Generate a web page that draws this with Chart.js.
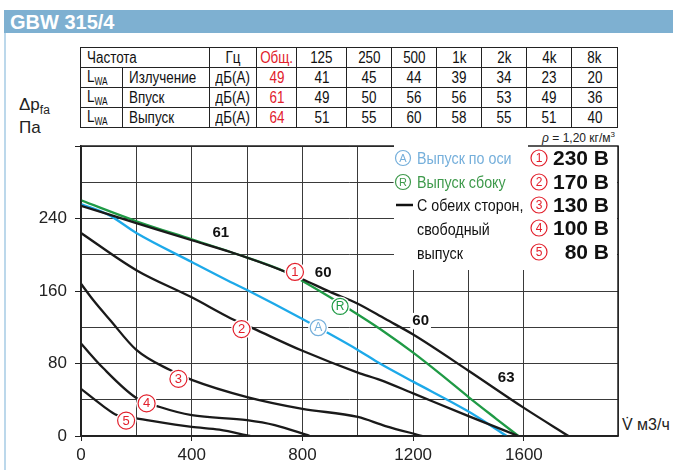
<!DOCTYPE html>
<html>
<head>
<meta charset="utf-8">
<script src="https://cdn.jsdelivr.net/npm/chart.js@4.4.0/dist/chart.umd.min.js"></script>
<style>
  body { margin: 0; background: #fff; font-family: "Liberation Sans", Arial, sans-serif; }
  #page { position: relative; width: 673px; height: 470px; overflow: hidden; }
  #band { position: absolute; left: 4px; top: 10px; width: 669px; height: 23px; background: #7eb0d1;
          color: #fff; font-weight: bold; font-size: 20px; line-height: 24px; padding-left: 6px; box-sizing: border-box; }
  #edge { position: absolute; left: 4px; top: 33px; width: 2px; height: 437px; background: #bcd8eb; }
  #noise { position: absolute; left: 80px; top: 47px; border-collapse: collapse; table-layout: fixed;
           font-size: 16px; color: #111; }
  #noise td { border: 1.5px solid #222; height: 19px; padding: 0; text-align: center; white-space: nowrap; overflow: hidden; }
  #noise td span { display: inline-block; transform: scaleX(0.84); transform-origin: center; }
  #noise td.l { text-align: left; padding-left: 6px; }
  #noise td.l span { transform-origin: left; }
  #noise .red { color: #e2202c; }
  #noise sub { font-size: 10px; vertical-align: -3px; }
  #dp { position: absolute; left: 19px; top: 96px; font-size: 17px; line-height: 18px; color: #222; }
  #dp sub { font-size: 12px; vertical-align: -4px; }
  #rho { position: absolute; right: 58px; top: 130px; font-size: 12px; color: #222; }
  #rho sup { font-size: 8px; vertical-align: 5px; }
  #vt { position: absolute; left: 622px; top: 416px; font-size: 16px; color: #222; }
  canvas { position: absolute; left: 0; top: 0; }
</style>
</head>
<body>
<div id="page">
  <div id="band">GBW 315/4</div>
  <div id="edge"></div>
  <table id="noise"></table>
  <div id="dp">Δp<sub>fa</sub><br>Па</div>
  <div id="rho"><i>ρ</i> = 1,20 кг/м<sup>3</sup></div>
  <div id="vt">V̇ м3/ч</div>
  <canvas id="chart" width="673" height="470"></canvas>
</div>
<script>
// таблица шума
var bands = ['125', '250', '500', '1k', '2k', '4k', '8k'];
var rowNames = ['Излучение', 'Впуск', 'Выпуск'];
var totals = [49, 61, 64];
var lwaRadiated = [41, 45, 44, 39, 34, 23, 20];
var lwaInlet = [49, 50, 56, 56, 53, 49, 36];
var lwaOutlet = [51, 55, 60, 58, 55, 51, 40];

// кривые (x = м3/ч, y = Па)
var x230 = [0, 200, 400, 540, 740, 800, 900, 1000, 1100, 1200, 1400, 1600, 1761];
var y230 = [254, 235, 216, 203, 181, 173, 159, 146, 129, 112, 72, 31, 0];
var xSide = [0, 200, 400, 540, 740, 800, 900, 1000, 1100, 1200, 1300, 1400, 1500, 1580];
var ySide = [260, 237, 217, 203, 181, 171, 153, 134, 114, 92, 68, 43, 19, 0];
var xAxial = [0, 100, 200, 400, 540, 600, 800, 1000, 1080, 1200, 1400, 1538];
var yAxial = [256, 244, 224, 192, 170, 161, 129, 95, 80, 60, 27, 0];
var x170 = [0, 200, 400, 540, 620, 800, 1000, 1080, 1200, 1400, 1580];
var y170 = [224, 183, 153, 130, 119, 94, 70, 62, 47, 22, 0];
var x130 = [0, 44, 105, 200, 320, 400, 600, 800, 1000, 1100, 1234];
var y130 = [168, 150, 128, 95, 73, 62, 43, 30, 21, 11, 0];
var x100 = [0, 80, 200, 285, 400, 600, 700, 827];
var y100 = [102, 75, 42, 32, 23, 17.5, 12, 0];
var x80 = [0, 80, 130, 200, 400, 500, 611];
var y80 = [52, 33, 23, 19.5, 10, 7, 0];

var voltages = ['230 В', '170 В', '130 В', '100 В', '80 В'];
var legendTexts = ['Выпуск по оси', 'Выпуск сбоку', 'С обеих сторон,', 'свободный', 'выпуск'];

// метки на кривых
var markNums = ['1', '2', '3', '4', '5'];
var markX = [773, 580, 352, 237, 163];
var markY = [181, 118, 63, 36, 17];
var letterMarks = ['A', 'R'];
var letterX = [857, 936];
var letterY = [119.6, 143];
var dbLabels = ['61', '60', '60', '63'];
var dbX = [505, 875, 1227, 1536];
var dbY = [224, 180, 127, 64];

var RED = '#e2202c', GREEN = '#1f9a45', BLUE = '#1da9e9', LBLUE = '#75afdb', BLACK = '#1a1a1a';

// строим таблицу
var tbl = document.getElementById('noise');
var widths = [42, 87, 47, 40, 50, 45, 45, 45, 45, 45, 46];
function cell(txt, cls, extra) {
  return '<td' + (cls ? ' class="' + cls + '"' : '') + (extra || '') + '><span>' + txt + '</span></td>';
}
var html = '<colgroup>' + widths.map(function (w) { return '<col style="width:' + w + 'px">'; }).join('') + '</colgroup>';
html += '<tr>' + cell('Частота', 'l', ' colspan="2"') + cell('Гц') + cell('Общ.', 'red') +
  bands.map(function (b) { return cell(b); }).join('') + '</tr>';
[lwaRadiated, lwaInlet, lwaOutlet].forEach(function (row, i) {
  html += '<tr>' + cell('L<sub>WA</sub>', 'l') + cell(rowNames[i], 'l') + cell('дБ(А)') +
    cell(totals[i], 'red') + row.map(function (v) { return cell(v); }).join('') + '</tr>';
});
tbl.innerHTML = html;

function pts(xs, ys) {
  return xs.map(function (x, i) { return { x: x, y: ys[i] }; });
}
function curve(label, xs, ys, color) {
  return {
    label: label, data: pts(xs, ys), borderColor: color, borderWidth: 2.3,
    pointRadius: 0, fill: false, cubicInterpolationMode: 'monotone'
  };
}

function narrow(ctx, text, x, y, k) {
  ctx.save();
  ctx.translate(x, y);
  ctx.scale(k, 1);
  ctx.fillText(text, 0, 0);
  ctx.restore();
}
function ring(ctx, x, y, r, color, txt, fs) {
  ctx.save();
  ctx.fillStyle = '#fff';
  ctx.beginPath(); ctx.arc(x, y, r + 2, 0, Math.PI * 2); ctx.fill();
  ctx.strokeStyle = color; ctx.lineWidth = 1.2;
  ctx.beginPath(); ctx.arc(x, y, r, 0, Math.PI * 2); ctx.stroke();
  ctx.fillStyle = color;
  ctx.font = fs + 'px "Liberation Sans", Arial';
  ctx.textAlign = 'center'; ctx.textBaseline = 'middle';
  ctx.fillText(txt, x, y + 0.5);
  ctx.restore();
}

var decor = {
  id: 'decor',
  beforeDatasetsDraw: function (chart) {
    var ctx = chart.ctx;
    // белое поле под легендой
    ctx.save();
    ctx.fillStyle = '#fff';
    ctx.fillRect(394, 146, 223, 124);
    ctx.restore();
  },
  afterDatasetsDraw: function (chart) {
    var ctx = chart.ctx, a = chart.chartArea;
    var xs = chart.scales.x, ys = chart.scales.y;
    ctx.save();
    ctx.strokeStyle = '#222'; ctx.lineWidth = 1.5;
    ctx.strokeRect(a.left, a.top, a.right - a.left, a.bottom - a.top);
    ctx.fillStyle = '#fff';
    ctx.fillRect(394, a.top - 2, 134, 5);

    // подписи дБ
    ctx.font = 'bold 15px "Liberation Sans", Arial';
    ctx.textAlign = 'center'; ctx.textBaseline = 'middle';
    dbLabels.forEach(function (t, i) {
      var px = xs.getPixelForValue(dbX[i]), py = ys.getPixelForValue(dbY[i]);
      var w = ctx.measureText(t).width;
      ctx.fillStyle = '#fff';
      ctx.fillRect(px - w / 2 - 2, py - 8, w + 4, 16);
      ctx.fillStyle = '#111';
      ctx.fillText(t, px, py);
    });
    markNums.forEach(function (t, i) {
      ring(ctx, xs.getPixelForValue(markX[i]), ys.getPixelForValue(markY[i]), 8.5, RED, t, 13);
    });
    ring(ctx, xs.getPixelForValue(letterX[0]), ys.getPixelForValue(letterY[0]), 8, LBLUE, letterMarks[0], 12);
    ring(ctx, xs.getPixelForValue(letterX[1]), ys.getPixelForValue(letterY[1]), 8, GREEN, letterMarks[1], 12);

    // легенда
    var ly = [158, 182, 205, 229, 253];
    ring(ctx, 403, ly[0], 7.5, LBLUE, 'A', 11);
    ring(ctx, 403, ly[1], 7.5, '#3f9a4c', 'R', 11);
    ctx.font = '17px "Liberation Sans", Arial';
    ctx.textAlign = 'left'; ctx.textBaseline = 'middle';
    var lc = [LBLUE, '#3f9a4c', '#111', '#111', '#111'];
    legendTexts.forEach(function (t, i) {
      ctx.fillStyle = lc[i];
      narrow(ctx, t, 417, ly[i] + 1, 0.84);
    });
    ctx.strokeStyle = '#111'; ctx.lineWidth = 2.5;
    ctx.beginPath(); ctx.moveTo(396, ly[2]); ctx.lineTo(413, ly[2]); ctx.stroke();

    var ry = [158, 182, 205, 228, 252];
    voltages.forEach(function (t, i) {
      ring(ctx, 539, ry[i], 8, RED, String(i + 1), 12);
      ctx.font = 'bold 21px "Liberation Sans", Arial';
      ctx.textAlign = 'right'; ctx.textBaseline = 'middle';
      ctx.fillStyle = '#111';
      ctx.fillText(t, 609, ry[i] + 1);
    });
    ctx.restore();
  }
};

var ctx = document.getElementById('chart').getContext('2d');
var chart = new Chart(ctx, {
  type: 'line',
  data: {
    datasets: [
      curve('80 В', x80, y80, BLACK),
      curve('100 В', x100, y100, BLACK),
      curve('130 В', x130, y130, BLACK),
      curve('170 В', x170, y170, BLACK),
      curve('230 В', x230, y230, BLACK),
      curve('Выпуск по оси', xAxial, yAxial, BLUE),
      curve('Выпуск сбоку', xSide, ySide, GREEN)
    ]
  },
  options: {
    responsive: false,
    devicePixelRatio: 1,
    animation: false,
    layout: { padding: { top: 146, right: 55, left: 0, bottom: 0 } },
    plugins: { legend: { display: false }, tooltip: { enabled: false } },
    scales: {
      x: {
        type: 'linear', min: 0, max: 1940,
        afterFit: function (s) { s.height = 34; },
        ticks: {
          stepSize: 200, autoSkip: false, maxRotation: 0, padding: 4,
          color: '#222', font: { family: '"Liberation Sans", Arial', size: 17 },
          callback: function (v) { return v % 400 === 0 ? String(v) : ''; }
        },
        grid: {
          color: '#3a3a3a', lineWidth: 1, tickLength: 5,
          tickColor: function (c) { return c.tick && c.tick.value % 400 === 0 ? '#222' : 'rgba(0,0,0,0)'; }
        },
        border: { color: '#222', width: 1.5 }
      },
      y: {
        type: 'linear', min: 0, max: 320,
        afterFit: function (s) { s.width = 81; },
        ticks: {
          stepSize: 40, autoSkip: false, padding: 8,
          color: '#222', font: { family: '"Liberation Sans", Arial', size: 17 },
          callback: function (v) { return v % 80 === 0 && v < 320 ? String(v) : ''; }
        },
        grid: {
          color: '#3a3a3a', lineWidth: 1, tickLength: 6,
          tickColor: function (c) { return c.tick && c.tick.value % 80 === 0 ? '#222' : 'rgba(0,0,0,0)'; }
        },
        border: { color: '#222', width: 1.5 }
      }
    }
  },
  plugins: [decor]
});
</script>
</body>
</html>
